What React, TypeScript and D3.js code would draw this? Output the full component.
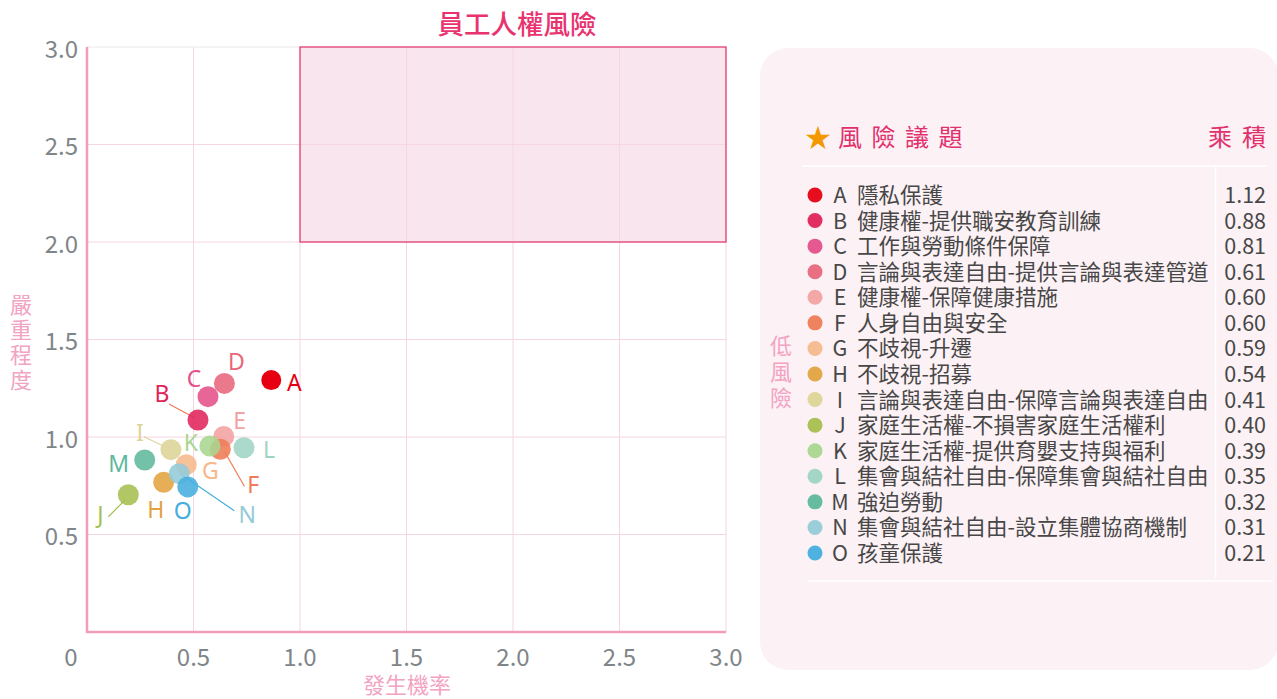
import React from 'react'
import * as d3 from 'd3'

// issue codes, names, product values (legend)
const codes = ['A','B','C','D','E','F','G','H','I','J','K','L','M','N','O'];
const names = [
  '隱私保護',
  '健康權-提供職安教育訓練',
  '工作與勞動條件保障',
  '言論與表達自由-提供言論與表達管道',
  '健康權-保障健康措施',
  '人身自由與安全',
  '不歧視-升遷',
  '不歧視-招募',
  '言論與表達自由-保障言論與表達自由',
  '家庭生活權-不損害家庭生活權利',
  '家庭生活權-提供育嬰支持與福利',
  '集會與結社自由-保障集會與結社自由',
  '強迫勞動',
  '集會與結社自由-設立集體協商機制',
  '孩童保護',
];
const products = ['1.12','0.88','0.81','0.61','0.60','0.60','0.59','0.54','0.41','0.40','0.39','0.35','0.32','0.31','0.21'];
// probability (x) and severity (y)
const probability = [0.865,0.521,0.568,0.645,0.642,0.626,0.466,0.360,0.394,0.194,0.577,0.737,0.271,0.433,0.473];
const severity    = [1.292,1.087,1.207,1.275,1.003,0.937,0.858,0.768,0.935,0.704,0.954,0.945,0.882,0.812,0.744];
const colors = ['#e60012','#e0245a','#e5508a','#e8677c','#f2a2a2','#ef7c56','#f6b88c','#e2a33f','#ddd496','#a6bf50','#a9d68f','#9fd4c4','#5eb89c','#94cbd8','#45aede'];

const xTicks = [0.5,1.0,1.5,2.0,2.5,3.0];
const yTicks = [0.5,1.0,1.5,2.0,2.5,3.0];

// label placement (px offsets from point) and leader lines
const labelOff: Record<string, [number, number]> = {
  A:[23,2], B:[-36,-27], C:[-14,-19], D:[12,-22], E:[16,-16], F:[33,35], G:[24,5],
  H:[-8,27], I:[-31,-18], J:[-28,19], K:[-19,-4], L:[25,1], M:[-26,3], N:[68,40], O:[-5,23],
};
const leaders: Record<string, [number, number, number, number]> = {
  B:[-29,-16,-3,-2], F:[4,2,24,37], I:[-27,-13,-8,-4], J:[-20,22,-3,5], N:[1,0,55,37],
};
const leaderColor: Record<string, string> = { B:'#ef7a5a', F:'#ef7c56', I:'#ddd496', J:'#a6bf50', N:'#45aede' };

const W = 1277, H = 699;
const x = d3.scaleLinear().domain([0,3]).range([87,726]);
const y = d3.scaleLinear().domain([0,3]).range([632,47]);
const rowY = d3.scalePoint<string>().domain(codes).range([195,553]);

const cjk = '"Noto Sans CJK TC","Noto Sans",sans-serif';
const pink = '#f3a3c2';
const tickColor = '#7f8689';
const vertical = { writingMode: 'vertical-rl', textOrientation: 'upright' } as React.CSSProperties;

export default function App() {
  return (
    <svg width={W} height={H} style={{position:'absolute',left:0,top:0,background:'#fff'}} fontFamily={cjk}>
      {/* title */}
      <text x={517} y={22} textAnchor="middle" dominantBaseline="central" fontSize={26.5} fontWeight={500} fill="#e8336f">員工人權風險</text>

      {/* high-risk zone */}
      <rect x={x(1)} y={y(3)} width={x(3)-x(1)} height={y(2)-y(3)} fill="#f9e5ed" />

      {/* grid */}
      {xTicks.map(t => <line key={'gx'+t} x1={x(t)} x2={x(t)} y1={y(3)} y2={y(0)} stroke="#f5d6e2" strokeWidth={1} />)}
      {yTicks.map(t => <line key={'gy'+t} x1={x(0)} x2={x(3)} y1={y(t)} y2={y(t)} stroke={t===3 ? '#ebe6e8' : '#f5d6e2'} strokeWidth={1} />)}
      <rect x={x(1)} y={y(3)} width={x(3)-x(1)} height={y(2)-y(3)} fill="none" stroke="#e2336c" strokeWidth={1.2} />

      {/* axes */}
      <line x1={x(0)} x2={x(0)} y1={y(3)} y2={y(0)+1} stroke="#f29bbb" strokeWidth={2.5} />
      <line x1={x(0)} x2={x(3)} y1={y(0)} y2={y(0)} stroke="#f29bbb" strokeWidth={2.5} />
      {xTicks.map(t => <text key={'xt'+t} x={x(t)} y={655} textAnchor="middle" dominantBaseline="central" fontSize={24} fill={tickColor}>{t.toFixed(1)}</text>)}
      {yTicks.map(t => <text key={'yt'+t} x={78} y={y(t)} textAnchor="end" dominantBaseline="central" fontSize={24} fill={tickColor}>{t.toFixed(1)}</text>)}
      <text x={71} y={655} textAnchor="middle" dominantBaseline="central" fontSize={24} fill={tickColor}>0</text>
      <text x={407} y={683} textAnchor="middle" dominantBaseline="central" fontSize={22} fill={pink}>發生機率</text>
      <text x={21} y={294} fontSize={22} fill={pink} letterSpacing={3} style={vertical}>嚴重程度</text>

      {/* leader lines */}
      {codes.map((c,i) => leaders[c] ? (
        <line key={'ld'+c} x1={x(probability[i])+leaders[c][0]} y1={y(severity[i])+leaders[c][1]}
          x2={x(probability[i])+leaders[c][2]} y2={y(severity[i])+leaders[c][3]} stroke={leaderColor[c]} strokeWidth={1.2} />
      ) : null)}

      {/* points */}
      {codes.map((c,i) => (
        <circle key={'pt'+c} cx={x(probability[i])} cy={y(severity[i])} r={c==='A' ? 10 : 10.5} fill={colors[i]} fillOpacity={c==='A' ? 1 : 0.88} />
      ))}
      {codes.map((c,i) => (
        <text key={'lb'+c} x={x(probability[i])+labelOff[c][0]} y={y(severity[i])+labelOff[c][1]} textAnchor="middle" dominantBaseline="central"
          fontSize={23} fill={colors[i]} fontFamily='"Noto Sans",sans-serif'>{c}</text>
      ))}

      {/* legend panel */}
      <rect x={760} y={48} width={518} height={622} rx={28} fill="#fcf1f5" />
      <text x={781} y={335} fontSize={22} fill={pink} letterSpacing={4} style={vertical}>低風險</text>
      <text x={818} y={135} textAnchor="middle" dominantBaseline="central" fontSize={26} fill="#f39800">★</text>
      <text x={838} y={135} dominantBaseline="central" fontSize={24} fill="#e2306d" letterSpacing={9.5}>風險議題</text>
      <text x={1276} y={135} textAnchor="end" dominantBaseline="central" fontSize={24} fill="#e2306d" letterSpacing={10}>乘積</text>
      <line x1={802} x2={1267} y1={166} y2={166} stroke="#ffffff" strokeWidth={1.5} />
      <line x1={1215.5} x2={1215.5} y1={166} y2={578} stroke="#ffffff" strokeWidth={1.5} />
      <line x1={808} x2={1273} y1={581} y2={581} stroke="#ffffff" strokeWidth={1.5} />
      {codes.map((c,i) => (
        <g key={'lg'+c} transform={`translate(0,${rowY(c)})`}>
          <circle cx={815} cy={0} r={7.5} fill={colors[i]} fillOpacity={0.95} />
          <text x={840} y={-1.5} textAnchor="middle" dominantBaseline="central" fontSize={21.5} fill="#474747">{c}</text>
          <text x={857} y={-1.5} dominantBaseline="central" fontSize={21.5} fill="#474747">{names[i]}</text>
          <text x={1266} y={-1.5} textAnchor="end" dominantBaseline="central" fontSize={21.5} fill="#474747">{products[i]}</text>
        </g>
      ))}
    </svg>
  );
}
